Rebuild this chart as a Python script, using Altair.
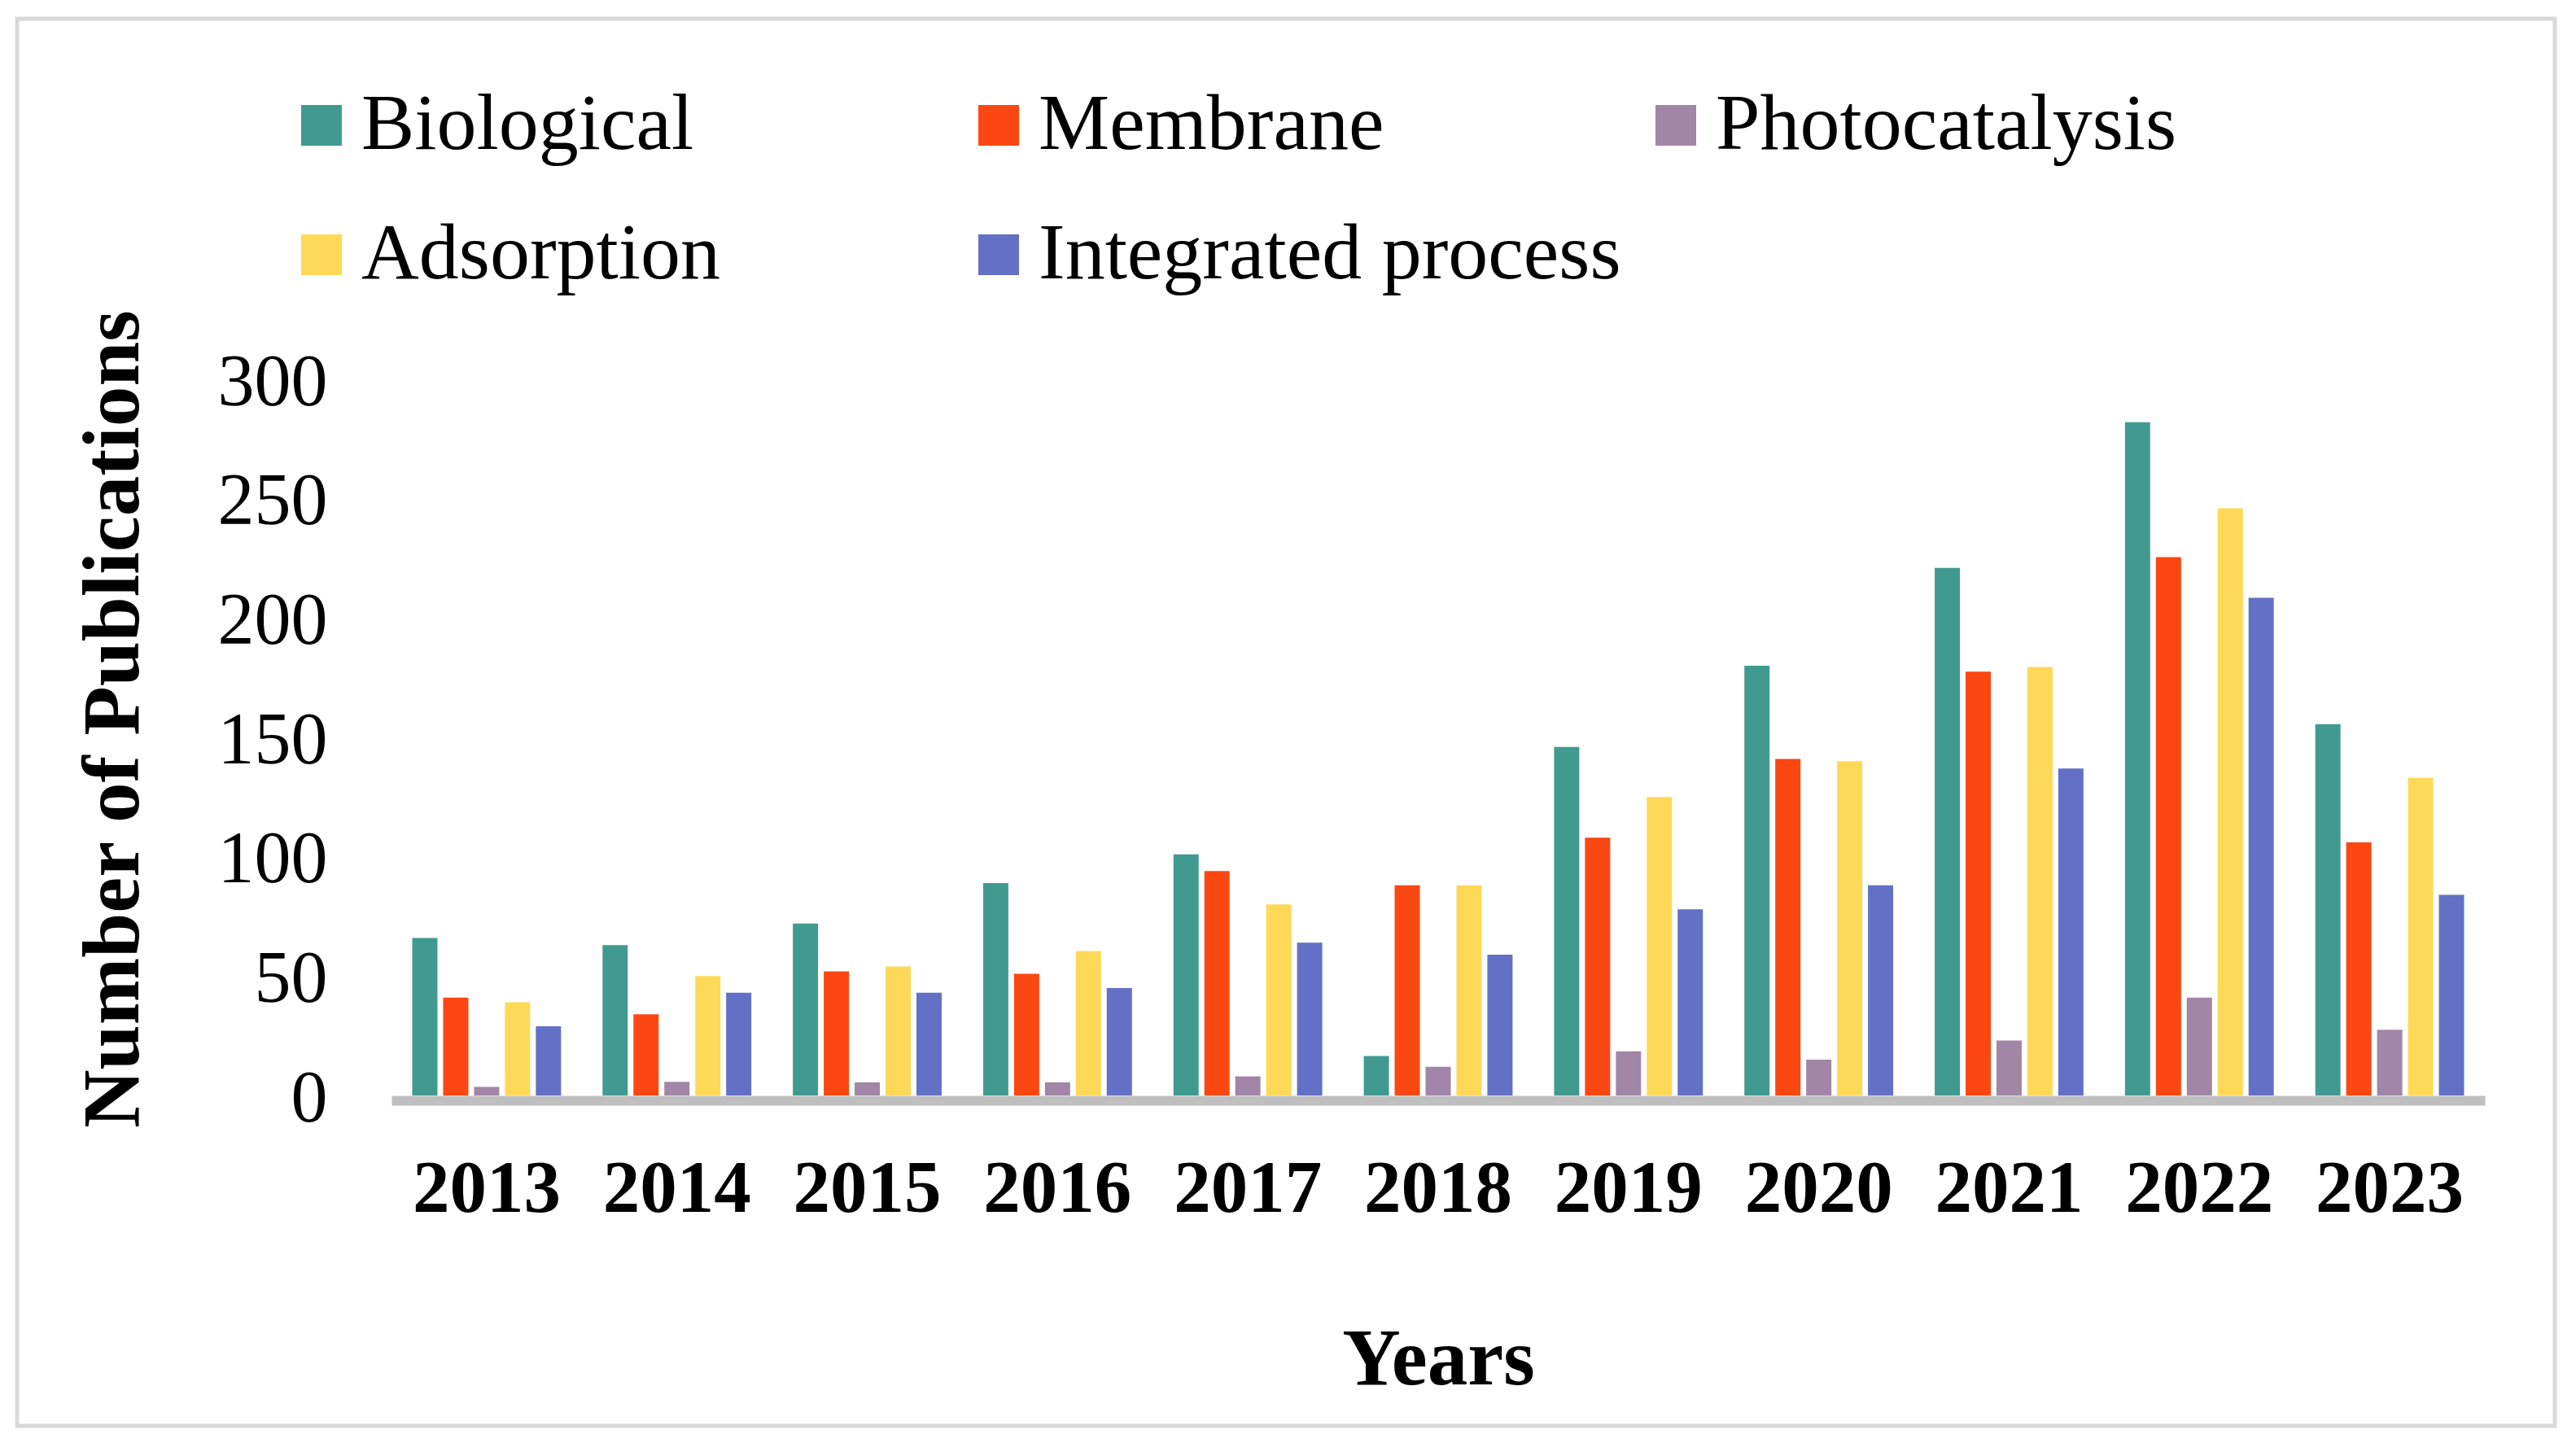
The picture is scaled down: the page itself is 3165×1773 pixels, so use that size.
import altair as alt
import pandas as pd

years = ["2013", "2014", "2015", "2016", "2017", "2018", "2019", "2020", "2021", "2022", "2023"]
series = ["Biological", "Membrane", "Photocatalysis", "Adsorption", "Integrated process"]
colors = ["#419A8F", "#FB4712", "#A186A8", "#FED958", "#6270C5"]

biological = [66, 63, 72, 89, 101, 16.5, 146, 180, 221, 282, 155.5]
membrane = [41, 34, 52, 51, 94, 88, 108, 141, 177.5, 225.5, 106]
photocatalysis = [3.6, 5.7, 5.5, 5.5, 8, 12, 18.5, 15, 23, 41, 27.5]
adsorption = [39, 50, 54, 60.5, 80, 88, 125, 140, 179.5, 246, 133]
integrated = [29, 43, 43, 45, 64, 59, 78, 88, 137, 208.5, 84]

y_ticks = [0, 50, 100, 150, 200, 250, 300]

values = [biological, membrane, photocatalysis, adsorption, integrated]
rows = []
for s, vals in zip(series, values):
    for yr, v in zip(years, vals):
        rows.append({"Year": yr, "Series": s, "Count": v})
df = pd.DataFrame(rows)

FONT = "Liberation Serif"
W, H = 2572, 880

bars = alt.Chart(df).mark_bar().encode(
    x=alt.X(
        "Year:N",
        sort=years,
        scale=alt.Scale(paddingInner=0.218, paddingOuter=0.109),
        axis=alt.Axis(
            title="Years",
            labelAngle=0,
            labelFont=FONT,
            labelFontSize=91,
            labelFontWeight="bold",
            labelColor="black",
            labelPadding=64,
            labelLimit=1000,
            ticks=False,
            domainColor="#bfbfbf",
            domainWidth=12,
            offset=6,
            titleFont=FONT,
            titleFontSize=99,
            titleFontWeight="bold",
            titleColor="black",
            titleBaseline="alphabetic",
            titleX=W / 2,
            titleY=348,
            titleAlign="center",
        ),
    ),
    xOffset=alt.XOffset(
        "Series:N",
        sort=series,
        scale=alt.Scale(domain=series, paddingInner=0.184, paddingOuter=0),
    ),
    y=alt.Y(
        "Count:Q",
        scale=alt.Scale(domain=[0, 300], nice=False),
        axis=alt.Axis(
            title="Number of Publications",
            values=y_ticks,
            labelFont=FONT,
            labelFontSize=90,
            labelColor="black",
            labelPadding=79,
            labelOffset=4,
            ticks=False,
            domain=False,
            grid=False,
            titleFont=FONT,
            titleFontSize=99,
            titleFontWeight="bold",
            titleColor="black",
            titleAngle=270,
            titleBaseline="alphabetic",
            titleAlign="center",
            titleX=-312,
            titleY=417,
        ),
    ),
    color=alt.Color(
        "Series:N",
        sort=series,
        scale=alt.Scale(domain=series, range=colors),
        legend=alt.Legend(
            title=None,
            orient="none",
            direction="horizontal",
            legendX=-135,
            legendY=-361,
            columns=3,
            gridAlign="all",
            symbolType="square",
            symbolSize=2500,
            symbolStrokeWidth=0,
            labelFont=FONT,
            labelFontSize=98,
            labelColor="black",
            labelOffset=0,
            labelLimit=3000,
            columnPadding=18,
            rowPadding=61,
            padding=0,
        ),
    ),
)

frame = alt.Chart(alt.Data(values=[{"k": 1}])).mark_rect(
    fillOpacity=0, stroke="#d9d9d9", strokeWidth=5
).encode(
    x=alt.value(-460), x2=alt.value(2658), y=alt.value(-443), y2=alt.value(1286)
)

chart = alt.layer(frame, bars).properties(
    width=W,
    height=H,
    autosize=alt.AutoSizeParams(type="none"),
    padding={"left": 473, "top": 458, "right": 90, "bottom": 420},
    background="white",
).configure_view(stroke=None)

chart.save("out.html", embed_options={"renderer": "svg", "actions": False})
